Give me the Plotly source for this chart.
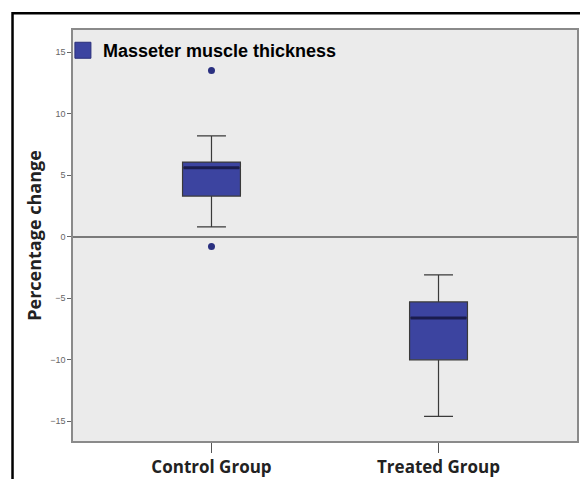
import plotly.graph_objects as go

groups = ["Control Group", "Treated Group"]
q1 = [3.3, -10.0]
median = [5.6, -6.6]
q3 = [6.07, -5.3]
lower_whisker = [0.8, -14.6]
upper_whisker = [8.2, -3.1]
outlier_groups = ["Control Group", "Control Group"]
outlier_values = [13.5, -0.8]
series_name = "Masseter muscle thickness"

fill = "#3c44a0"
navy = "#1a1c4e"

fig = go.Figure()
fig.add_trace(go.Box(
    x=groups, q1=q1, median=median, q3=q3,
    lowerfence=lower_whisker, upperfence=upper_whisker,
    fillcolor=fill, line=dict(color="#3a3a3a", width=1.2),
    whiskerwidth=0.5, width=0.255, showlegend=False, hoverinfo="skip",
))
fig.add_trace(go.Box(
    x=groups, q1=median, median=median, q3=median,
    lowerfence=median, upperfence=median,
    fillcolor="rgba(0,0,0,0)", line=dict(color=navy, width=3),
    whiskerwidth=0, width=0.245, showlegend=False, hoverinfo="skip",
))
fig.add_trace(go.Scatter(
    x=outlier_groups, y=outlier_values, mode="markers",
    marker=dict(color="#2a3080", size=7), showlegend=False,
))
fig.add_trace(go.Scatter(
    x=[None], y=[None], mode="markers", name=series_name,
    marker=dict(symbol="square", size=20, color=fill, line=dict(color="#2a2f7a", width=1)),
))

# page has an 8px body margin: figure is drawn at (8, 8)
fig.update_layout(
    width=572, height=471,
    margin=dict(l=65, r=1, t=22, b=37),
    paper_bgcolor="white", plot_bgcolor="#ebebeb",
    boxmode="overlay",
    font=dict(family="Liberation Sans, Arial, sans-serif", color="#222"),
    legend=dict(x=-0.02, y=0.995, xanchor="left", yanchor="top",
                bgcolor="rgba(0,0,0,0)", itemsizing="trace",
                font=dict(size=18, family="Liberation Sans, Arial", color="black", weight="bold"),
                tracegroupgap=0, itemwidth=30),
    shapes=[dict(type="rect", xref="paper", yref="paper",
                 x0=-0.12, x1=1.05, y0=-0.2, y1=1.041,
                 line=dict(color="black", width=2.5), layer="above")],
)
fig.update_xaxes(
    type="category", range=[-0.61, 1.61],
    showline=True, linecolor="#8a8a8a", linewidth=1.5, mirror=True,
    showgrid=False, ticks="outside", ticklen=10, tickcolor="#555", tickwidth=1,
    tickfont=dict(size=17, family="Open Sans, DejaVu Sans", color="#222", weight="bold"),
    zeroline=False,
)
fig.update_yaxes(
    range=[-16.6, 16.8], tickvals=[-15, -10, -5, 0, 5, 10, 15],
    showline=True, linecolor="#8a8a8a", linewidth=1.5, mirror=True,
    showgrid=False, ticks="outside", ticklen=4, tickcolor="#666",
    tickfont=dict(size=9, color="#666"),
    zeroline=True, zerolinecolor="#7a7a7a", zerolinewidth=1.5,
    title=dict(text="Percentage change", standoff=4,
               font=dict(size=18, family="Open Sans, DejaVu Sans", color="#222", weight="bold")),
)

fig.write_html("out.html")
